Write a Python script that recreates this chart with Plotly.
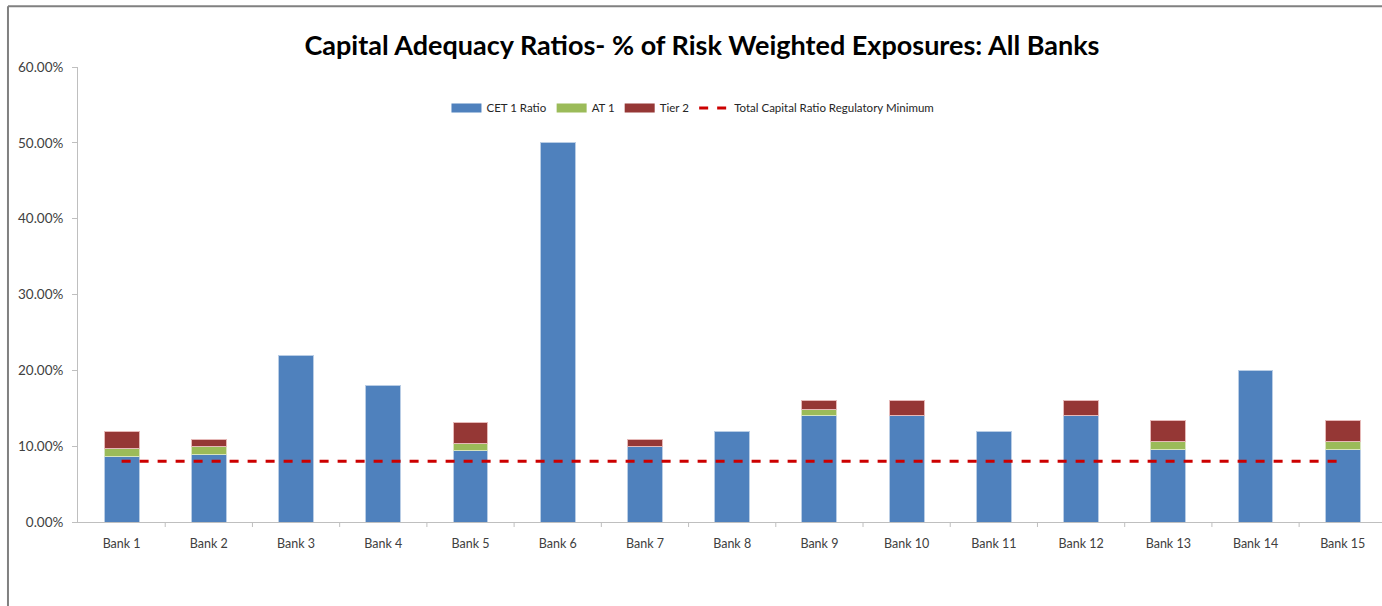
import plotly.graph_objects as go

banks = [f"Bank {i}" for i in range(1, 16)]
cet1 = [8.7, 8.9, 22.0, 18.0, 9.4, 50.0, 9.9, 12.0, 14.0, 14.0, 12.0, 14.0, 9.6, 20.0, 9.6]
at1 = [1.0, 1.0, None, None, 1.0, None, None, None, 0.9, None, None, None, 1.0, None, 1.0]
tier2 = [2.2, 1.0, None, None, 2.75, None, 1.0, None, 1.1, 2.0, None, 2.0, 2.85, None, 2.85]
reg_min = [8.0] * 15
y_ticks = [0, 10, 20, 30, 40, 50, 60]

series = [("CET 1 Ratio", cet1, "#4F81BD", "#B9CDE5"),
          ("AT 1", at1, "#9BBB59", "#D7E4BD"),
          ("Tier 2", tier2, "#953735", "#E6B9B8")]

font_family = "Lato, 'Open Sans', sans-serif"

fig = go.Figure()
for name, vals, col, edge in series:
    fig.add_trace(go.Bar(x=banks, y=vals, name=name, showlegend=False, legendgroup=name,
                         marker=dict(color=col, line=dict(color=edge, width=1))))
# legend entries drawn as wide swatches (Excel style)
for name, vals, col, edge in series:
    fig.add_trace(go.Scatter(x=[None], y=[None], name=name, legendgroup=name, mode="lines",
                             line=dict(color=col, width=9), hoverinfo="skip"))
fig.add_trace(go.Scatter(x=banks, y=reg_min, name="Total Capital Ratio Regulatory Minimum",
                         mode="lines", line=dict(color="#CC0000", width=3, dash="dash")))

fig.update_layout(
    width=1382, height=606,
    barmode="stack", bargap=0.6,
    plot_bgcolor="white", paper_bgcolor="white",
    margin=dict(l=78, r=0, t=67, b=84),
    font=dict(family=font_family, size=12, color="#404040"),
    title=dict(text="<b>Capital Adequacy Ratios- % of Risk Weighted Exposures: All Banks</b>",
               x=0.4785, xanchor="center", xref="paper", y=0.925, yanchor="middle",
               font=dict(family=font_family, size=27, color="black")),
    legend=dict(orientation="h", x=0.4716, xanchor="center", y=0.91, yanchor="middle",
                font=dict(family=font_family, size=11.5, color="#262626"),
                traceorder="normal", bgcolor="rgba(0,0,0,0)", itemwidth=30),
    showlegend=True,
)
fig.update_xaxes(range=[-0.5, 14.45], showline=True, linecolor="#BFBFBF", linewidth=1,
                 ticks="", showgrid=False, ticklabelstandoff=10,
                 tickfont=dict(size=12.5, color="#404040"))
fig.update_yaxes(range=[0, 60], tickvals=y_ticks, ticktext=[f"{v:.2f}%" for v in y_ticks],
                 showline=True, linecolor="#BFBFBF", linewidth=1, ticks="outside",
                 ticklen=5, tickcolor="#BFBFBF", showgrid=False, zeroline=False,
                 ticklabelstandoff=6, tickfont=dict(size=13.5, color="#404040"))

# category divider ticks on x axis
for i in range(15):
    fig.add_shape(type="line", xref="x", yref="paper", x0=i + 0.5, x1=i + 0.5,
                  y0=0, y1=-0.011, line=dict(color="#BFBFBF", width=1))

# outer chart border (left and top edges visible)
fig.add_shape(type="line", xref="paper", yref="paper", x0=-0.0537, x1=-0.0537,
              y0=1.1335, y1=-0.2, line=dict(color="#808080", width=2))
fig.add_shape(type="line", xref="paper", yref="paper", x0=-0.0537, x1=1.01,
              y0=1.1335, y1=1.1335, line=dict(color="#808080", width=2))

fig.write_html("out.html")
